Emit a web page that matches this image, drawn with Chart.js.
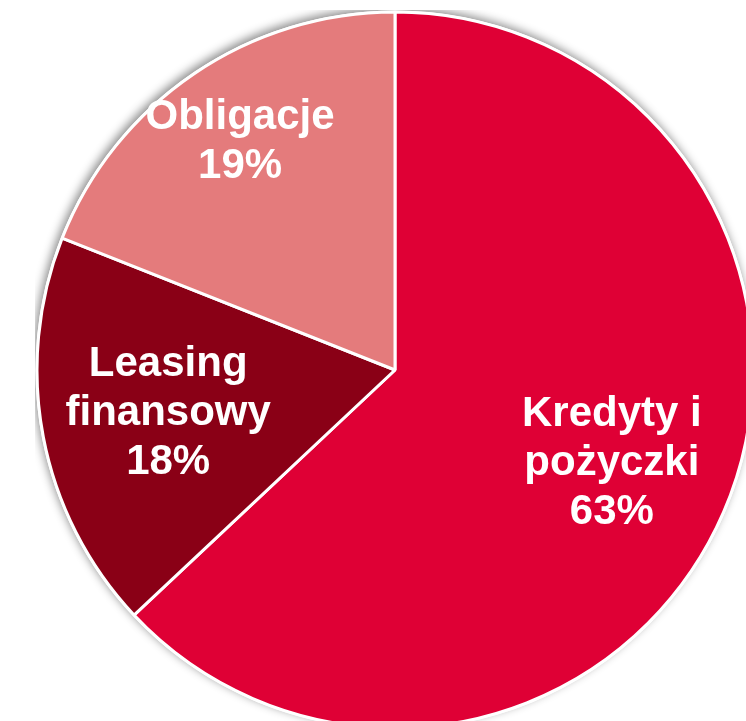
<!DOCTYPE html>
<html>
<head>
<meta charset="utf-8">
<script src="https://cdn.jsdelivr.net/npm/chart.js@4/dist/chart.umd.min.js"></script>
<style>
html, body { margin: 0; padding: 0; background: #ffffff; overflow: hidden; width: 746px; height: 721px; }
#wrap { position: absolute; left: 35px; top: 10px; width: 720px; height: 720px; }
</style>
</head>
<body>
<div id="wrap"><canvas id="c" width="720" height="720"></canvas></div>
<script>
const categories = [["Kredyty i", "pożyczki"], ["Leasing", "finansowy"], ["Obligacje"]];
const shares = [63, 18, 19];
const sliceColors = ["#DF0035", "#8A0016", "#E47B7C"];
const labelRadiusFraction = [0.66, 0.645, 0.77];

const shadowPlugin = {
  id: 'pieShadow',
  beforeDatasetsDraw(chart) {
    const arc = chart.getDatasetMeta(0).data[0];
    if (!arc) return;
    const ctx = chart.ctx;
    ctx.save();
    ctx.beginPath();
    ctx.arc(arc.x, arc.y, arc.outerRadius + 1.5, 0, Math.PI * 2);
    ctx.fillStyle = '#ffffff';
    ctx.shadowColor = 'rgba(0,0,0,0.45)';
    ctx.shadowBlur = 10;
    ctx.shadowOffsetX = -2;
    ctx.shadowOffsetY = -3;
    ctx.fill();
    ctx.restore();
  }
};

const labelPlugin = {
  id: 'sliceLabels',
  afterDatasetsDraw(chart) {
    const ctx = chart.ctx;
    const meta = chart.getDatasetMeta(0);
    ctx.save();
    ctx.fillStyle = '#ffffff';
    ctx.font = 'bold 42px "Liberation Sans", Arial, sans-serif';
    ctx.textAlign = 'center';
    ctx.textBaseline = 'middle';
    const lh = 49;
    meta.data.forEach((arc, i) => {
      const mid = (arc.startAngle + arc.endAngle) / 2;
      const r = arc.outerRadius * labelRadiusFraction[i];
      const cx = arc.x + Math.cos(mid) * r;
      const cy = arc.y + Math.sin(mid) * r;
      const lines = categories[i].concat([shares[i] + '%']);
      lines.forEach((t, j) => {
        ctx.fillText(t, cx, cy + (j - (lines.length - 1) / 2) * lh);
      });
    });
    ctx.restore();
  }
};

new Chart(document.getElementById('c'), {
  type: 'pie',
  data: {
    labels: categories.map(c => c.join(' ')),
    datasets: [{
      data: shares,
      backgroundColor: sliceColors,
      borderColor: '#ffffff',
      borderWidth: 3,
      hoverOffset: 0
    }]
  },
  options: {
    responsive: false,
    animation: false,
    radius: 358,
    layout: { padding: 0 },
    plugins: { legend: { display: false }, tooltip: { enabled: false } },
    events: []
  },
  plugins: [shadowPlugin, labelPlugin]
});
</script>
</body>
</html>
